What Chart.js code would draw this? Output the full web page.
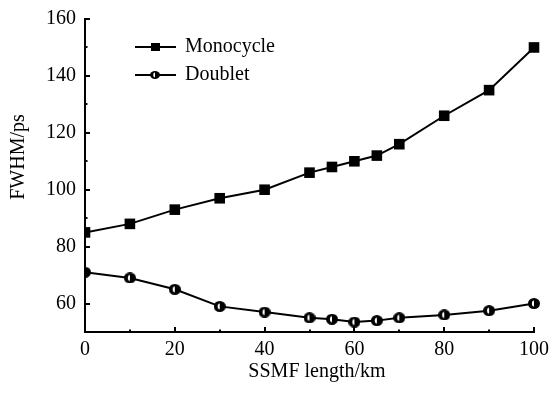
<!DOCTYPE html>
<html>
<head>
<meta charset="utf-8">
<script src="https://cdn.jsdelivr.net/npm/chart.js@4/dist/chart.umd.min.js"></script>
<style>
  html, body { margin: 0; padding: 0; background: #fff; }
</style>
</head>
<body>
<canvas id="chart" width="552" height="396"></canvas>
<script>
// Data
const lengths = [0, 10, 20, 30, 40, 50, 55, 60, 65, 70, 80, 90, 100];
const monocycle = [85, 88, 93, 97, 100, 106, 108, 110, 112, 116, 126, 135, 150];
const doublet = [71, 69, 65, 59, 57, 55, 54.5, 53.5, 54, 55, 56, 57.5, 60];

const xTitle = 'SSMF length/km';
const yTitle = 'FWHM/ps';
const FONT = '"Liberation Serif", "Times New Roman", serif';

// half filled circle marker used for the Doublet series
function makeDot(w, h, wr, hr) {
    const c = document.createElement('canvas');
    c.width = w; c.height = h;
    const g = c.getContext('2d');
    const cx = w / 2, cy = h / 2;
    g.fillStyle = '#000';
    g.beginPath();
    g.ellipse(cx, cy, w / 2, h / 2, 0, 0, Math.PI * 2);
    g.fill();
    g.fillStyle = '#fff';
    g.beginPath();
    g.ellipse(cx, cy, wr, hr, 0, Math.PI / 2, Math.PI * 3 / 2);
    g.fill();
    return c;
}
const dotBig = makeDot(12, 11, 2.1, 2.9);
const dotSmall = makeDot(10, 8, 1.8, 2.4);

function toPoints(ys) {
    return lengths.map((x, i) => ({ x: x, y: ys[i] }));
}

// inward ticks, axis titles and legend
const decorations = {
    id: 'decorations',
    afterDraw(chart) {
        const { ctx, chartArea: a, scales: { x, y } } = chart;
        ctx.save();
        ctx.strokeStyle = '#000';
        ctx.lineWidth = 2;
        ctx.beginPath();
        for (let v = 60; v <= 160; v += 10) {
            const py = Math.round(y.getPixelForValue(v));
            const len = v % 20 === 0 ? 5 : 2.5;
            ctx.moveTo(a.left, py);
            ctx.lineTo(a.left + len, py);
        }
        for (let v = 10; v <= 100; v += 10) {
            const px = Math.round(x.getPixelForValue(v));
            const len = v % 20 === 0 ? 5 : 2.5;
            ctx.moveTo(px, a.bottom);
            ctx.lineTo(px, a.bottom - len);
        }
        ctx.stroke();

        // axis titles
        ctx.fillStyle = '#000';
        ctx.font = '20px ' + FONT;
        ctx.textAlign = 'center';
        ctx.textBaseline = 'middle';
        ctx.fillText(xTitle, 317, 372);
        ctx.save();
        ctx.translate(19, 157);
        ctx.rotate(-Math.PI / 2);
        ctx.fillText(yTitle, 0, 0);
        ctx.restore();

        // legend
        const rows = [
            { label: chart.data.datasets[0].label, y: 47, mark: 'rect' },
            { label: chart.data.datasets[1].label, y: 75, mark: 'dot' }
        ];
        rows.forEach(r => {
            ctx.beginPath();
            ctx.moveTo(135, r.y);
            ctx.lineTo(176, r.y);
            ctx.stroke();
            if (r.mark === 'rect') {
                ctx.fillRect(151, r.y - 4, 9, 8);
            } else {
                ctx.drawImage(dotSmall, 150, r.y - 4);
            }
            ctx.textAlign = 'left';
            ctx.fillText(r.label, 185, r.y);
        });
        ctx.restore();
    }
};

const ctx = document.getElementById('chart').getContext('2d');
new Chart(ctx, {
    type: 'line',
    data: {
        datasets: [{
            label: 'Monocycle',
            data: toPoints(monocycle),
            borderColor: '#000',
            backgroundColor: '#000',
            borderWidth: 2,
            pointStyle: 'rect',
            pointRadius: 7.5,
            pointBorderWidth: 0,
            tension: 0,
            clip: { left: 0, top: 20, right: 20, bottom: 0 }
        }, {
            label: 'Doublet',
            data: toPoints(doublet),
            borderColor: '#000',
            backgroundColor: '#000',
            borderWidth: 2,
            pointStyle: dotBig,
            tension: 0,
            clip: { left: 0, top: 20, right: 20, bottom: 0 }
        }]
    },
    options: {
        responsive: false,
        animation: false,
        layout: { padding: { top: 19, right: 18, left: 0, bottom: 0 } },
        plugins: {
            legend: { display: false },
            tooltip: { enabled: false }
        },
        scales: {
            x: {
                type: 'linear',
                min: 0,
                max: 100,
                afterFit: s => { s.height = 64; s.paddingRight = 0; s.paddingLeft = 0; },
                grid: { display: false, drawTicks: false },
                border: { display: true, color: '#000', width: 2 },
                ticks: {
                    stepSize: 10,
                    padding: 6,
                    color: '#000',
                    font: { family: FONT, size: 20 },
                    maxRotation: 0,
                    autoSkip: false,
                    callback: v => (v % 20 === 0 ? v : '')
                }
            },
            y: {
                min: 50,
                max: 160,
                afterFit: s => { s.width = 85; s.paddingTop = 0; s.paddingBottom = 0; },
                grid: { display: false, drawTicks: false },
                border: { display: true, color: '#000', width: 2 },
                ticks: {
                    stepSize: 10,
                    padding: 9,
                    color: '#000',
                    font: { family: FONT, size: 20 },
                    autoSkip: false,
                    callback: v => (v % 20 === 0 && v >= 60 ? v : '')
                }
            }
        }
    },
    plugins: [decorations]
});
</script>
</body>
</html>
